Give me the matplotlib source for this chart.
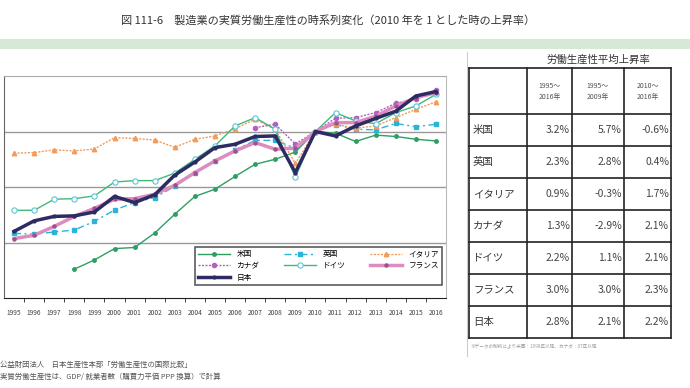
# -*- coding: utf-8 -*-
# 製造業の実質労働生産性の時系列変化（2010年=1）
import matplotlib.pyplot as plt
import numpy as np

plt.rcParams['font.family'] = ['Noto Sans CJK JP', 'DejaVu Sans']

nan = np.nan
years = list(range(1995, 2017))

# 系列データ（2010年=1）
us = [nan, nan, nan, 0.504, 0.537, 0.578, 0.582, 0.634, 0.702, 0.766, 0.792,
      0.838, 0.882, 0.900, 0.926, 1.0, 0.994, 0.964, 0.987, 0.982, 0.972, 0.966]
uk = [0.633, 0.630, 0.638, 0.645, 0.676, 0.717, 0.744, 0.762, 0.802, 0.852, 0.894,
      0.934, 0.968, 0.968, 0.940, 1.0, 1.025, 1.008, 1.006, 1.029, 1.017, 1.026]
italy = [0.922, 0.924, 0.934, 0.930, 0.937, 0.978, 0.975, 0.969, 0.943, 0.972, 0.984,
         1.010, 1.044, 1.008, 0.885, 1.0, 1.026, 1.012, 1.020, 1.050, 1.080, 1.107]
canada = [nan] * 12 + [1.014, 1.026, 0.955, 1.0, 1.048, 1.050, 1.068, 1.102, 1.116, 1.149]
germany = [0.716, 0.716, 0.756, 0.758, 0.768, 0.818, 0.823, 0.823, 0.850, 0.900, 0.948,
           1.020, 1.050, 1.008, 0.835, 1.0, 1.068, 1.038, 1.028, 1.068, 1.092, 1.134]
france = [0.614, 0.626, 0.658, 0.694, 0.723, 0.756, 0.758, 0.774, 0.806, 0.852, 0.894,
          0.930, 0.960, 0.936, 0.940, 1.0, 1.032, 1.032, 1.055, 1.092, 1.122, 1.140]
japan = [0.640, 0.678, 0.694, 0.696, 0.710, 0.766, 0.744, 0.772, 0.843, 0.890, 0.942,
         0.954, 0.982, 0.984, 0.852, 1.0, 0.984, 1.020, 1.047, 1.073, 1.128, 1.144]

# 表データ
countries = ['米国', '英国', 'イタリア', 'カナダ', 'ドイツ', 'フランス', '日本']
periods = ['1995～\n2016年', '1995～\n2009年', '2010～\n2016年']
rate_95_16 = ['3.2%', '2.3%', '0.9%', '1.3%', '2.2%', '3.0%', '2.8%']
rate_95_09 = ['5.7%', '2.8%', '-0.3%', '-2.9%', '1.1%', '3.0%', '2.1%']
rate_10_16 = ['-0.6%', '0.4%', '1.7%', '2.1%', '2.1%', '2.3%', '2.2%']

W, H = 690, 388
fig = plt.figure(figsize=(W / 100, H / 100), dpi=100)

# 背景用（ピクセル座標）
bg = fig.add_axes([0, 0, 1, 1])
bg.set_xlim(0, W)
bg.set_ylim(H, 0)
bg.axis('off')

bg.add_patch(plt.Rectangle((0, 39), W, 10, color='#d6e9d6', lw=0))
bg.text(328, 20, '図 111-6　製造業の実質労働生産性の時系列変化（2010 年を 1 とした時の上昇率）',
        ha='center', va='center', fontsize=8, color='#333333')
bg.plot([467, 467], [52, 356], color='#cccccc', lw=0.8)

# 表
col_x = [469, 527, 572, 624, 671]
row_y = [68, 114, 146, 178, 210, 242, 274, 306, 338]
for x in col_x:
    bg.plot([x, x], [row_y[0], row_y[-1]], color='#222222', lw=1.2)
for y in row_y:
    bg.plot([col_x[0], col_x[-1]], [y, y], color='#222222', lw=1.2)
bg.text(598, 60, '労働生産性平均上昇率', ha='center', va='center', fontsize=7.5, color='#333333')
for j, p in enumerate(periods):
    bg.text((col_x[j + 1] + col_x[j + 2]) / 2, 91, p, ha='center', va='center',
            fontsize=5, color='#555555', linespacing=1.5)
for i, c in enumerate(countries):
    yc = (row_y[i + 1] + row_y[i + 2]) / 2
    bg.text(473, yc, c, ha='left', va='center', fontsize=7.5, color='#333333')
    for j, col in enumerate([rate_95_16, rate_95_09, rate_10_16]):
        bg.text(col_x[j + 2] - 2, yc, col[i], ha='right', va='center', fontsize=7.5,
                color='#444444')
bg.text(470, 347, '※データの制約により米国：1998年以降、カナダ：07年以降',
        ha='left', va='center', fontsize=3.3, color='#999999')

bg.text(0, 365, '公益財団法人　日本生産性本部「労働生産性の国際比較」',
        ha='left', va='center', fontsize=5.3, color='#555555')
bg.text(0, 377, '実質労働生産性は、GDP/ 就業者数（購買力平価 PPP 換算）で計算',
        ha='left', va='center', fontsize=5.3, color='#555555')

# -- グラフ
ax = fig.add_axes([4 / W, 1 - 298 / H, 442 / W, 222 / H])
X = np.arange(len(years))

ax.plot(X, us, color='#2e9e62', lw=1, marker='o', ms=2.5, label='米国', zorder=3)
ax.plot(X, uk, color='#2ab4da', lw=1, ls=(0, (5, 2.5, 1.5, 2.5)), marker='s', ms=2.8,
        label='英国', zorder=3)
ax.plot(X, italy, color='#f39b5b', lw=1, ls=(0, (1.5, 1)), marker='^', ms=3.2,
        label='イタリア', zorder=3)
ax.plot(X, canada, color='#b261bf', lw=1, ls=(0, (1.5, 1)), marker='o', ms=3,
        label='カナダ', zorder=3)
ax.plot(X, germany, color='#3dbb7a', lw=1, marker='o', ms=3.8, mfc='white',
        mec='#5cc6d6', mew=0.8, label='ドイツ', zorder=3)
ax.plot(X, france, color='#dc8cbe', lw=2.5, marker='o', ms=2.2, mfc='#a0508c',
        mec='#a0508c', label='フランス', zorder=4)
ax.plot(X, japan, color='#2c2b63', lw=2.5, marker='o', ms=2, label='日本', zorder=5)

ax.set_xlim(-0.5, len(years) - 0.5)
ax.set_ylim(0.4, 1.2)
for g in [0.6, 0.8, 1.0]:
    ax.axhline(g, color='#999999', lw=1, zorder=1)
ax.set_yticks([])
ax.set_xticks(X)
ax.set_xticklabels([str(y) for y in years], fontsize=4.8, color='#444444')
ax.set_xticks(np.arange(0.5, len(years) - 1, 1), minor=True)
ax.tick_params(axis='x', which='major', length=0, pad=8)
ax.tick_params(axis='x', which='minor', length=3, direction='out', color='#222222')
ax.spines['left'].set_color('#666666')
ax.spines['top'].set_color('#aaaaaa')
ax.spines['right'].set_color('#bbbbbb')
ax.spines['bottom'].set_color('#222222')

h, l = ax.get_legend_handles_labels()
order = [0, 3, 6, 1, 4, 2, 5]
leg = ax.legend([h[i] for i in order], [l[i] for i in order], ncol=3, loc='lower left',
                bbox_to_anchor=(0.432, 0.0586, 0.559, 0.176), mode='expand',
                fontsize=5.5, handlelength=4.2, frameon=True, fancybox=False,
                borderaxespad=0, labelspacing=0.5, borderpad=0.4, columnspacing=1)
leg.get_frame().set_edgecolor('#333333')
leg.get_frame().set_linewidth(1.2)

plt.savefig('out.png', dpi=100)
